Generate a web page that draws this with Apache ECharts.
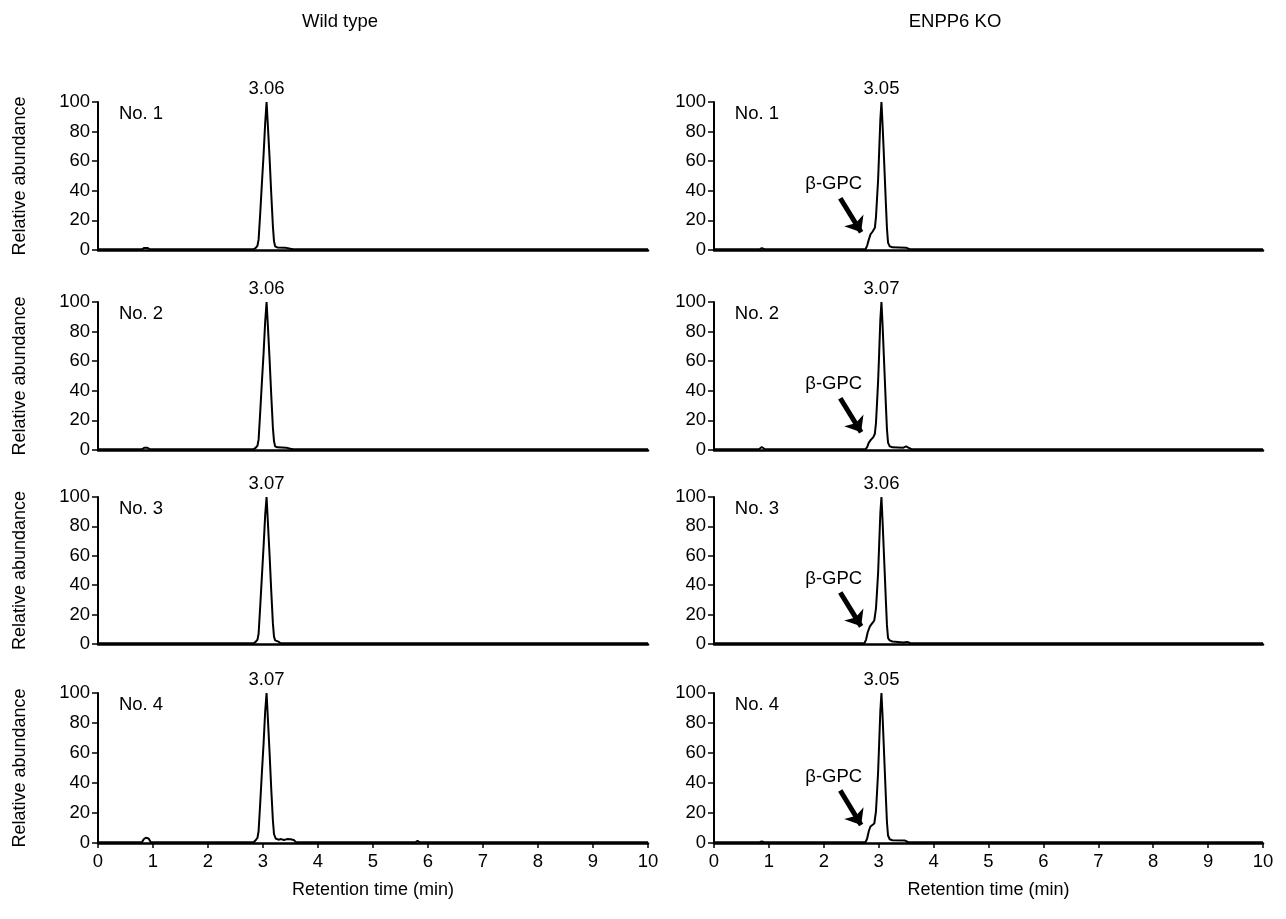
<!DOCTYPE html>
<html>
<head>
<meta charset="utf-8">
<script src="https://cdn.jsdelivr.net/npm/echarts@6/dist/echarts.min.js"></script>
<style>
  html, body { margin: 0; padding: 0; background: #fff; }
  #chart { width: 1286px; height: 919px; }
</style>
</head>
<body>
<div id="chart"></div>
<script>
// column titles / sample labels
const groups = ['Wild type', 'ENPP6 KO']
const sampleNames = ['No. 1', 'No. 2', 'No. 3', 'No. 4']
const xTicks = [0, 1, 2, 3, 4, 5, 6, 7, 8, 9, 10]
const yTicks = [0, 20, 40, 60, 80, 100]

// retention time (min) labels shown on top of each main peak
const wtPeakLabels = ['3.06', '3.06', '3.07', '3.07']
const koPeakLabels = ['3.05', '3.07', '3.06', '3.05']
const wtPeakX = [3.065, 3.065, 3.065, 3.065]
const koPeakX = [3.05, 3.05, 3.05, 3.05]

// beta-GPC annotation: label point, arrow tail, arrow head (min, %)
const gpcLabel = [2.18, 38]
const gpcTail = [2.3, 35]
const gpcHead = [2.68, 12]

// chromatograms [time (min), relative abundance (%)]
const wt1 = [[0,0.5],[0.8,0.5],[0.84,1.4],[0.9,1.4],[0.94,0.5],[2.83,0.5],[2.87,1.5],[2.9,3],[2.92,7],[2.95,25],[2.98,45],[3.01,64],[3.04,86],[3.065,100],[3.09,83],[3.12,62],[3.15,38],[3.18,16],[3.2,6],[3.22,2.5],[3.26,1.7],[3.4,1.6],[3.43,0.6],[3.5,0.8],[3.52,1.5],[3.55,0.5],[10,0.5]]
const wt2 = [[0,0.5],[0.8,0.5],[0.84,1.5],[0.9,1.5],[0.94,0.5],[2.83,0.5],[2.87,1.6],[2.9,3],[2.92,7],[2.95,26],[2.98,46],[3.01,65],[3.04,87],[3.065,100],[3.09,83],[3.12,61],[3.15,37],[3.18,15],[3.2,6],[3.22,2.5],[3.26,1.8],[3.42,1.6],[3.45,0.6],[3.5,0.8],[3.52,1.4],[3.55,0.5],[10,0.5]]
const wt3 = [[0,0.5],[2.83,0.5],[2.87,1.6],[2.9,3],[2.92,7],[2.95,26],[2.98,46],[3.01,66],[3.04,88],[3.065,100],[3.09,82],[3.12,60],[3.15,36],[3.18,14],[3.2,5],[3.22,2.5],[3.28,1.6],[3.32,0.5],[10,0.5]]
const wt4 = [[0,0.5],[0.8,0.5],[0.83,2.5],[0.87,3.5],[0.92,3],[0.96,0.5],[2.83,0.5],[2.87,2],[2.9,3.5],[2.92,8],[2.95,27],[2.98,47],[3.01,66],[3.04,88],[3.065,100],[3.09,82],[3.12,60],[3.15,36],[3.18,15],[3.2,6],[3.23,3],[3.28,2.2],[3.33,2.6],[3.38,2],[3.44,2.6],[3.5,2.5],[3.56,2],[3.6,0.6],[4.45,0.5],[4.48,1],[4.51,0.5],[5.77,0.5],[5.81,1.4],[5.85,0.5],[10,0.5]]

const ko1 = [[0,0.5],[0.83,0.5],[0.87,1.3],[0.92,0.5],[2.76,0.5],[2.79,3],[2.82,7],[2.85,10.5],[2.89,12.5],[2.93,15],[2.95,22],[2.97,35],[2.99,48],[3.01,68],[3.03,88],[3.05,100],[3.07,85],[3.09,68],[3.11,50],[3.13,32],[3.15,15],[3.17,5],[3.2,2.5],[3.25,1.8],[3.5,1.6],[3.56,0.5],[10,0.5]]
const ko2 = [[0,0.5],[0.82,0.5],[0.87,2],[0.93,0.5],[2.76,0.5],[2.79,2],[2.82,5],[2.86,7],[2.9,8.5],[2.93,11],[2.95,18],[2.97,32],[2.99,47],[3.01,67],[3.03,88],[3.05,100],[3.07,85],[3.09,67],[3.11,49],[3.13,31],[3.15,14],[3.17,5],[3.2,2.5],[3.25,1.8],[3.45,1.6],[3.5,2.5],[3.54,1.6],[3.6,0.5],[10,0.5]]
const ko3 = [[0,0.5],[2.74,0.5],[2.77,3],[2.8,8],[2.84,12],[2.88,14],[2.92,16],[2.95,24],[2.97,36],[2.99,49],[3.01,69],[3.03,89],[3.05,100],[3.07,84],[3.09,66],[3.11,48],[3.13,30],[3.15,13],[3.17,4],[3.2,2.5],[3.25,1.7],[3.4,1.2],[3.45,1],[3.52,1.4],[3.58,0.5],[10,0.5]]
const ko4 = [[0,0.5],[0.83,0.5],[0.87,1],[0.91,0.5],[2.76,0.5],[2.79,3],[2.82,8],[2.85,11],[2.88,12],[2.92,13],[2.95,21],[2.97,34],[2.99,48],[3.01,68],[3.03,88],[3.05,100],[3.07,85],[3.09,67],[3.11,49],[3.13,31],[3.15,14],[3.17,5],[3.2,2.5],[3.25,1.8],[3.48,1.6],[3.54,0.5],[10,0.5]]

const wtData = [wt1, wt2, wt3, wt4]
const koData = [ko1, ko2, ko3, ko4]

const font = 'Liberation Sans, Arial, sans-serif'
const fs = 18.5
const colLeft = [98, 714]
const colWidth = [550, 549]
const rowTop = [102, 302, 497, 693]
const rowHeight = [148, 148, 147, 150]
const titleX = [340, 955]

const chart = echarts.init(document.getElementById('chart'))

const grids = []
const xAxes = []
const yAxes = []
const series = []

for (let c = 0; c < 2; c++) {
  for (let r = 0; r < 4; r++) {
    const idx = grids.length
    const last = r === 3
    grids.push({ left: colLeft[c], top: rowTop[r], width: colWidth[c], height: rowHeight[r] })
    xAxes.push({
      gridIndex: idx,
      type: 'value',
      min: 0,
      max: 10,
      interval: 1,
      name: last ? 'Retention time (min)' : '',
      nameLocation: 'middle',
      nameGap: 38,
      nameTextStyle: { color: '#000', fontSize: 18, fontFamily: font },
      axisLine: { show: true, lineStyle: { color: '#000', width: 2.5 } },
      axisTick: { show: last, length: 5, lineStyle: { color: '#000', width: 1.5 } },
      axisLabel: { show: last, color: '#000', fontSize: fs, fontFamily: font, margin: 9 },
      splitLine: { show: false }
    })
    yAxes.push({
      gridIndex: idx,
      type: 'value',
      min: 0,
      max: 100,
      interval: 20,
      name: c === 0 ? 'Relative abundance' : '',
      nameLocation: 'middle',
      nameGap: 69,
      nameTextStyle: { color: '#000', fontSize: 18, fontFamily: font },
      axisLine: { show: true, lineStyle: { color: '#000', width: 2 } },
      axisTick: { show: true, length: 6, lineStyle: { color: '#000', width: 1.5 } },
      axisLabel: { color: '#000', fontSize: fs, fontFamily: font, margin: 8 },
      splitLine: { show: false }
    })

    const peakX = c === 0 ? wtPeakX[r] : koPeakX[r]
    const peakLabel = c === 0 ? wtPeakLabels[r] : koPeakLabels[r]
    const marks = [
      {
        coord: [peakX, 100], symbolSize: 0,
        label: { show: true, position: 'top', distance: 4, formatter: peakLabel, color: '#000', fontSize: fs, fontFamily: font }
      },
      {
        coord: [0.38, 92], symbolSize: 0,
        label: { show: true, position: 'right', distance: 0, formatter: sampleNames[r], color: '#000', fontSize: fs, fontFamily: font }
      }
    ]
    const s = {
      type: 'line',
      xAxisIndex: idx,
      yAxisIndex: idx,
      data: c === 0 ? wtData[r] : koData[r],
      showSymbol: false,
      clip: false,
      lineStyle: { color: '#000', width: 2 },
      silent: true,
      animation: false,
      markPoint: { symbol: 'circle', data: marks, animation: false }
    }
    if (c === 1) {
      marks.push({
        coord: gpcLabel, symbolSize: 0,
        label: { show: true, position: 'top', distance: 0, formatter: 'β-GPC', color: '#000', fontSize: fs, fontFamily: font }
      })
      s.markLine = {
        silent: true,
        animation: false,
        symbol: ['none', 'arrow'],
        symbolSize: [17, 14],
        lineStyle: { color: '#000', width: 5, type: 'solid' },
        label: { show: false },
        data: [[{ coord: gpcTail }, { coord: gpcHead }]]
      }
    }
    series.push(s)
  }
}

chart.setOption({
  animation: false,
  backgroundColor: '#fff',
  graphic: groups.map((g, i) => ({
    type: 'text',
    x: titleX[i],
    y: 22,
    style: { text: g, fill: '#000', font: '18.5px ' + font, textAlign: 'center', textVerticalAlign: 'middle' }
  })),
  grid: grids,
  xAxis: xAxes,
  yAxis: yAxes,
  series: series
})
</script>
</body>
</html>
